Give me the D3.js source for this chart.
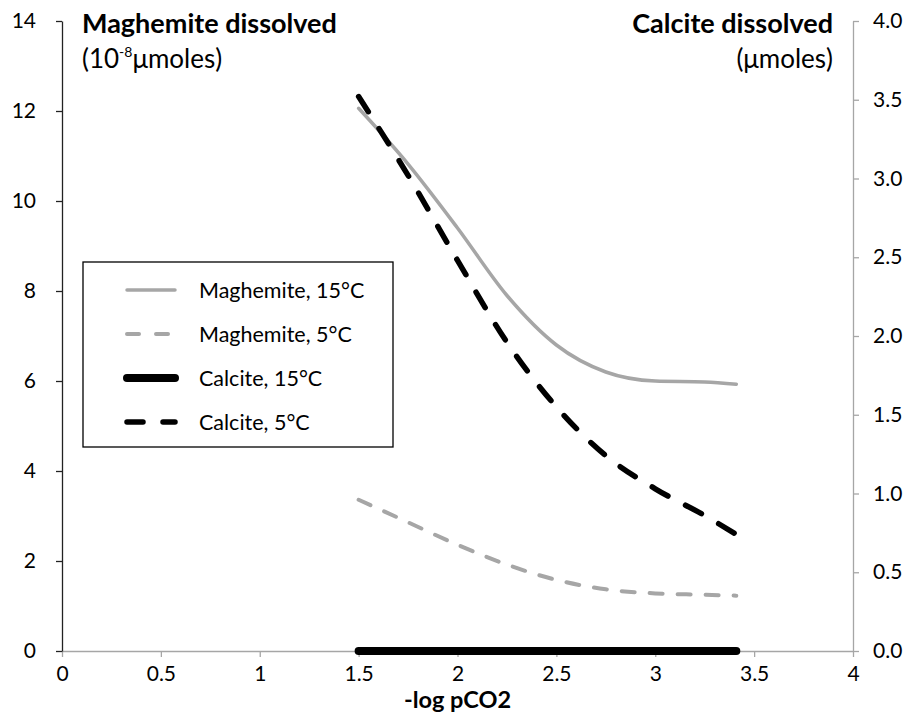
<!DOCTYPE html>
<html>
<head>
<script src="https://cdn.jsdelivr.net/npm/d3@7"></script>
<style>
  body { margin: 0; background: #fff; }
  text { font-family: Lato, "Open Sans", sans-serif; fill: #000; }
</style>
</head>
<body>
<div id="chart"></div>
<script>

// x values (-log pCO2) where the curves were read
var xVals = [1.5, 1.75, 2.0, 2.25, 2.5, 2.75, 3.0, 3.25, 3.41];

// left axis, 10^-8 umoles
var mag15 = [12.06, 10.82, 9.4, 7.9, 6.8, 6.2, 6.0, 5.98, 5.93];
var mag5  = [3.36, 2.86, 2.36, 1.92, 1.58, 1.37, 1.28, 1.25, 1.23];
// right axis, umoles
var cal15 = [0, 0, 0, 0, 0, 0, 0, 0, 0];
var cal5  = [3.52, 3.02, 2.48, 1.96, 1.55, 1.24, 1.03, 0.86, 0.74];

var xTicks = [0, 0.5, 1, 1.5, 2, 2.5, 3, 3.5, 4];
var yLeftTicks = [0, 2, 4, 6, 8, 10, 12, 14];
var yRightTicks = [0, 0.5, 1, 1.5, 2, 2.5, 3, 3.5, 4];

var legendNames = ["Maghemite, 15°C", "Maghemite, 5°C", "Calcite, 15°C", "Calcite, 5°C"];

var grey = "#a6a6a6";

var svg = d3.select("#chart").append("svg")
    .attr("width", 908)
    .attr("height", 726);

var x = d3.scaleLinear().domain([0, 4]).range([62, 853]);
var yL = d3.scaleLinear().domain([0, 14]).range([651, 21]);
var yR = d3.scaleLinear().domain([0, 4]).range([651, 21]);

// x axis
var xAxis = svg.append("g")
    .attr("transform", "translate(0," + yL(0) + ")")
    .call(d3.axisBottom(x).tickValues(xTicks).tickSize(6).tickSizeOuter(0)
        .tickFormat(function (d) { return d3.format("")(d); }));
xAxis.select(".domain").attr("stroke", grey).attr("stroke-width", 1.3);
xAxis.selectAll(".tick line").attr("stroke", grey).attr("stroke-width", 1.3);
xAxis.selectAll(".tick text").attr("font-size", "21px").attr("y", 15).attr("fill", "#000");

// left axis
var leftAxis = svg.append("g")
    .attr("transform", "translate(" + x(0) + ",0)")
    .call(d3.axisLeft(yL).tickValues(yLeftTicks).tickSize(6).tickSizeOuter(0));
leftAxis.select(".domain").attr("stroke", "#222").attr("stroke-width", 1.3);
leftAxis.selectAll(".tick line").attr("stroke", "#222").attr("stroke-width", 1.3);
leftAxis.selectAll(".tick text").attr("font-size", "21px").attr("x", -26).attr("fill", "#000");

// right axis
var rightAxis = svg.append("g")
    .attr("transform", "translate(" + x(4) + ",0)")
    .call(d3.axisRight(yR).tickValues(yRightTicks).tickSize(6).tickSizeOuter(0)
        .tickFormat(d3.format(".1f")));
rightAxis.select(".domain").attr("stroke", grey).attr("stroke-width", 1.3);
rightAxis.selectAll(".tick line").attr("stroke", grey).attr("stroke-width", 1.3);
rightAxis.selectAll(".tick text").attr("font-size", "21px").attr("x", 20).attr("fill", "#000");

// series
function pts(ys) {
  return xVals.map(function (v, i) { return [v, ys[i]]; });
}
var lineL = d3.line().x(function (d) { return x(d[0]); }).y(function (d) { return yL(d[1]); })
    .curve(d3.curveMonotoneX);
var lineR = d3.line().x(function (d) { return x(d[0]); }).y(function (d) { return yR(d[1]); })
    .curve(d3.curveMonotoneX);

var styles = [
  { color: grey, width: 3.5, dash: null },
  { color: grey, width: 4, dash: "13,15" },
  { color: "#000", width: 8, dash: null },
  { color: "#000", width: 5.5, dash: "18,20" }
];

svg.append("path").attr("d", lineL(pts(mag15)))
    .attr("fill", "none").attr("stroke", styles[0].color).attr("stroke-width", styles[0].width)
    .attr("stroke-linecap", "round");
svg.append("path").attr("d", lineL(pts(mag5)))
    .attr("fill", "none").attr("stroke", styles[1].color).attr("stroke-width", styles[1].width)
    .attr("stroke-dasharray", styles[1].dash).attr("stroke-linecap", "round");
svg.append("path").attr("d", lineR(pts(cal15)))
    .attr("fill", "none").attr("stroke", styles[2].color).attr("stroke-width", styles[2].width)
    .attr("stroke-linecap", "round");
svg.append("path").attr("d", lineR(pts(cal5)))
    .attr("fill", "none").attr("stroke", styles[3].color).attr("stroke-width", styles[3].width)
    .attr("stroke-dasharray", styles[3].dash).attr("stroke-linecap", "round");

// legend
var legend = svg.append("g");
legend.append("rect")
    .attr("x", 83).attr("y", 262).attr("width", 310).attr("height", 185)
    .attr("fill", "#fff").attr("stroke", "#000").attr("stroke-width", 1.3);

var rows = legend.selectAll("g.row")
    .data(legendNames)
    .enter()
      .append("g")
      .attr("transform", function (d, i) { return "translate(0," + (290 + i * 44) + ")"; });

rows.append("line")
    .attr("x1", 127).attr("x2", 175).attr("y1", 0).attr("y2", 0)
    .attr("stroke", function (d, i) { return styles[i].color; })
    .attr("stroke-width", function (d, i) { return styles[i].width; })
    .attr("stroke-dasharray", function (d, i) { return i == 1 ? "12,17" : (i == 3 ? "16,20" : null); })
    .attr("stroke-linecap", "round");

rows.append("text")
    .attr("x", 199).attr("y", 7.5)
    .attr("font-size", "21.5px")
    .text(function (d) { return d; });

// axis titles
svg.append("text").attr("x", 82).attr("y", 33)
    .attr("font-size", "27px").attr("font-weight", "bold")
    .text("Maghemite dissolved");
var sub = svg.append("text").attr("x", 82).attr("y", 68).attr("font-size", "26px");
sub.append("tspan").text("(10");
sub.append("tspan").attr("font-size", "14px").attr("dy", -11).text("-8");
sub.append("tspan").attr("dy", 11).text("μmoles)");

svg.append("text").attr("x", 833).attr("y", 33)
    .attr("font-size", "27px").attr("font-weight", "bold").attr("text-anchor", "end")
    .text("Calcite dissolved");
svg.append("text").attr("x", 833).attr("y", 68)
    .attr("font-size", "26px").attr("text-anchor", "end")
    .text("(μmoles)");

svg.append("text").attr("x", x(2)).attr("y", 708)
    .attr("font-size", "23.5px").attr("font-weight", "bold").attr("text-anchor", "middle")
    .text("-log pCO2");

</script>
</body>
</html>
